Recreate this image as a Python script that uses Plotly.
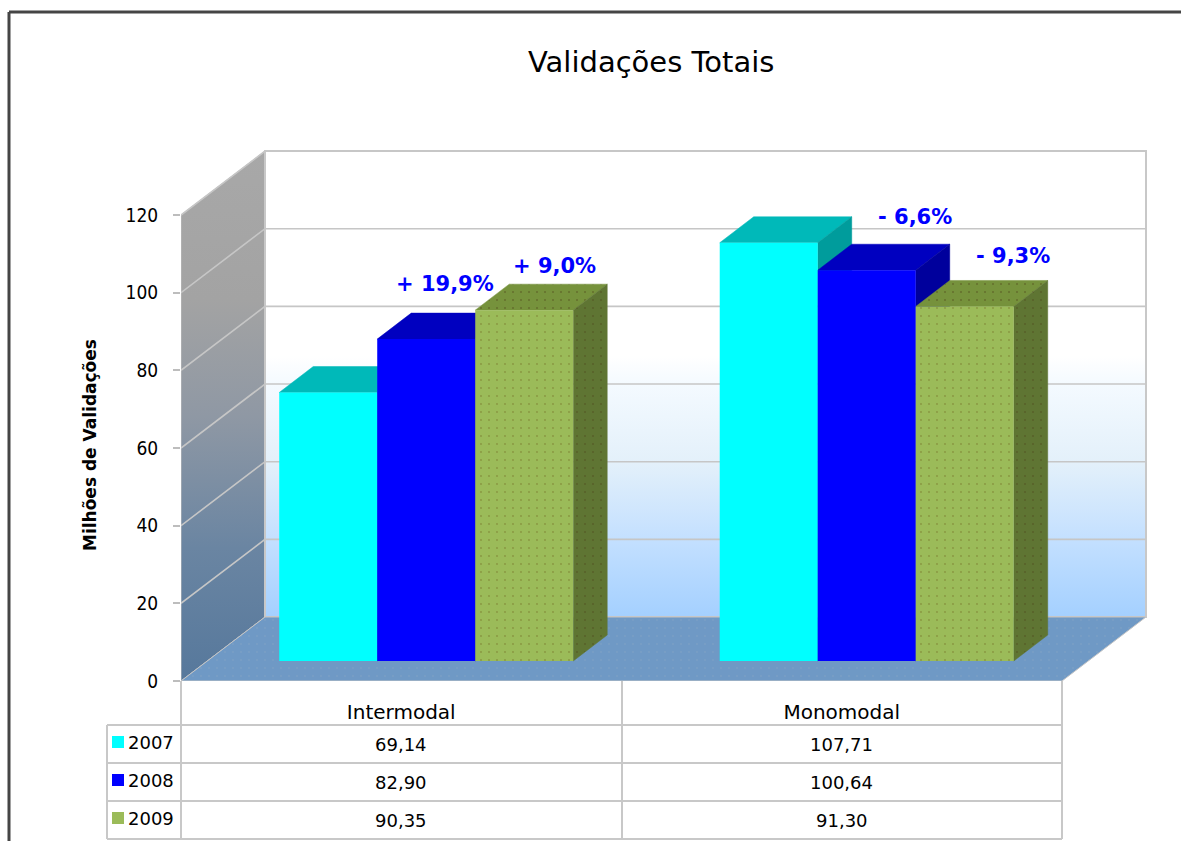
import plotly.graph_objects as go

# ---------- data ----------
categories = ["Intermodal", "Monomodal"]
series_names = ["2007", "2008", "2009"]
values_2007 = [69.14, 107.71]
values_2008 = [82.90, 100.64]
values_2009 = [90.35, 91.30]
y_ticks = [0, 20, 40, 60, 80, 100, 120]
change_labels = ["+ 19,9%", "+ 9,0%", "- 6,6%", "- 9,3%"]

# ---------- styles / geometry ----------
W, H = 1181, 841
X0_PX, Y0_PX = 181, 681
CAT_PX, UNIT_PX = 440.5, 3.883
FRONT = ["#00ffff", "#0000ff", "#9bbb59"]
TOP = ["#00b9b9", "#0000c0", "#76923c"]
SIDE = ["#009c9c", "#00009c", "#5f7533"]
WALL_DX, WALL_DY = 84 / CAT_PX, 64 / UNIT_PX
BAR_DX, BAR_DY = 34 / CAT_PX, 26 / UNIT_PX
BAR_BASE = 20 / UNIT_PX
BAR_W, BAR_OFF = 98 / CAT_PX, 0.223
GRID = "#c6c6c6"
FONT = "DejaVu Sans"

series = [values_2007, values_2008, values_2009]
fig = go.Figure()
ymax_val = 120


def poly(x, y, **kw):
    fig.add_trace(go.Scatter(x=x, y=y, mode="lines", fill="toself", showlegend=False,
                             hoverinfo="skip", xaxis="x", yaxis="y", **kw))


# side wall
poly([0, WALL_DX, WALL_DX, 0, 0],
     [0, WALL_DY, ymax_val + WALL_DY, ymax_val, 0],
     line=dict(color="#bdbdbd", width=1),
     fillgradient=dict(type="vertical",
                       colorscale=[[0, "#56789c"], [0.25, "#6a85a2"], [0.5, "#8f98a4"],
                                   [0.72, "#a3a3a3"], [1, "#a8a8a8"]]))
# back wall
right = len(categories)
poly([WALL_DX, right + WALL_DX, right + WALL_DX, WALL_DX, WALL_DX],
     [WALL_DY, WALL_DY, ymax_val + WALL_DY, ymax_val + WALL_DY, WALL_DY],
     line=dict(color="#c8c8c8", width=2),
     fillgradient=dict(type="vertical",
                       colorscale=[[0, "#a4d0ff"], [0.17, "#c4e0ff"], [0.33, "#e3f0fa"],
                                   [0.5, "#f4faff"], [0.56, "#ffffff"], [1, "#ffffff"]]))
# floor
poly([0, right, right + WALL_DX, WALL_DX, 0],
     [0, 0, WALL_DY, WALL_DY, 0],
     line=dict(color="#c4c4c4", width=1), fillcolor="#6f99c5",
     fillpattern=dict(shape=".", size=8, solidity=0.04, fgcolor="#85a6c4", bgcolor="#6f99c5"))
# gridlines on the walls
for t in y_ticks:
    if t == 0:
        continue
    fig.add_trace(go.Scatter(x=[0, WALL_DX, right + WALL_DX],
                             y=[t, t + WALL_DY, t + WALL_DY],
                             mode="lines", line=dict(color=GRID, width=1.6),
                             showlegend=False, hoverinfo="skip", xaxis="x", yaxis="y"))

# top and side faces of the bars
for s, vals in enumerate(series):
    for c, v in enumerate(vals):
        x0 = c + BAR_OFF + s * BAR_W
        x1 = x0 + BAR_W
        t = BAR_BASE + v
        pat = dict(shape=".", size=8, solidity=0.05, fgcolor="#4f4a1c") if s == 2 else None
        kw = dict(fillpattern=dict(bgcolor=TOP[s], **pat)) if pat else {}
        poly([x0, x1, x1 + BAR_DX, x0 + BAR_DX, x0], [t, t, t + BAR_DY, t + BAR_DY, t],
             line=dict(color=TOP[s], width=0.5), fillcolor=TOP[s], **kw)
        kw = dict(fillpattern=dict(bgcolor=SIDE[s], **pat)) if pat else {}
        poly([x1, x1 + BAR_DX, x1 + BAR_DX, x1, x1],
             [BAR_BASE, BAR_BASE + BAR_DY, t + BAR_DY, t, BAR_BASE],
             line=dict(color=SIDE[s], width=0.5), fillcolor=SIDE[s], **kw)

# front faces, in an overlaid subplot so they cover the faces behind them
for s, vals in enumerate(series):
    marker = dict(color=FRONT[s], line=dict(width=0))
    if s == 2:
        marker["pattern"] = dict(shape=".", size=8, solidity=0.04,
                                 fgcolor="#87953f", bgcolor=FRONT[s], fillmode="replace")
    fig.add_trace(go.Bar(x=[c + BAR_OFF + (s + 0.5) * BAR_W for c in range(len(vals))],
                         y=vals, base=[BAR_BASE] * len(vals), width=BAR_W, name=series_names[s],
                         marker=marker, showlegend=False, xaxis="x2", yaxis="y2"))


# ---------- chrome helpers ----------
def px(p):
    return p / W


def py(p):
    return 1 - p / H


shapes = []


def line(x0, y0, x1, y1, color="#c8c8c8", width=2):
    shapes.append(dict(type="line", xref="paper", yref="paper", x0=px(x0), x1=px(x1),
                       y0=py(y0), y1=py(y1), line=dict(color=color, width=width)))


# outer frame
line(9, 12, W, 12, "#454545", 3)
line(9, 12, 9, H, "#454545", 3)
# data table
row_lines = [725, 763, 801, 839]
for i, r in enumerate(row_lines):
    line(107, r, 1062, r)
line(107, 725, 107, 839)
for xv in [181, 622, 1062]:
    line(xv, 681, xv, 839)

CENTER = dict(xanchor="center", yanchor="middle", showarrow=False)
annotations = [
    dict(text="Validações Totais", xref="paper", yref="paper", x=px(651), y=py(62),
         font=dict(family=FONT, size=29, color="#000"), **CENTER),
    dict(text="<b>Milhões de Validações</b>", xref="paper", yref="paper", x=px(90), y=py(445),
         textangle=-90, font=dict(family=FONT, size=17, color="#000"), **CENTER),
]
row_centers = [744, 782, 820]
for s, vals in enumerate(series):
    shapes.append(dict(type="rect", xref="paper", yref="paper", x0=px(112), x1=px(124),
                       y0=py(row_centers[s] - 8), y1=py(row_centers[s] + 4),
                       fillcolor=FRONT[s], line=dict(width=0)))
    annotations.append(dict(text=series_names[s], xref="paper", yref="paper", x=px(151),
                            y=py(row_centers[s] - 2),
                            font=dict(family=FONT, size=18, color="#000"), **CENTER))
    for c, v in enumerate(vals):
        annotations.append(dict(text=f"{v:.2f}".replace(".", ","), xref="x", yref="paper",
                                x=c + 0.5, y=py(row_centers[s]),
                                font=dict(family=FONT, size=18, color="#000"), **CENTER))

# change labels, placed relative to the back-top of their bars
label_bars = [(1, 0), (2, 0), (1, 1), (2, 1)]
label_shift = [(-15, 29), (-4, 18), (14, 27), (14, 24)]
for txt, (s, c), (dx, dy) in zip(change_labels, label_bars, label_shift):
    annotations.append(dict(text=f"<b>{txt}</b>", xref="x", yref="y",
                            x=c + BAR_OFF + (s + 0.5) * BAR_W + BAR_DX,
                            y=BAR_BASE + series[s][c] + BAR_DY,
                            xshift=dx, yshift=dy,
                            font=dict(family=FONT, size=21, color="#0000ff"), **CENTER))

x_range = [0, (W - X0_PX) / CAT_PX]
y_range = [0, Y0_PX / UNIT_PX]
x_dom = [X0_PX / W, 1]
y_dom = [1 - Y0_PX / H, 1]

fig.update_layout(
    width=W, height=H, margin=dict(l=0, r=0, t=0, b=0, pad=0), autosize=False,
    paper_bgcolor="#ffffff", plot_bgcolor="rgba(0,0,0,0)", showlegend=False,
    barmode="overlay", shapes=shapes, annotations=annotations,
    xaxis=dict(domain=x_dom, range=x_range, showgrid=False, zeroline=False, showline=False,
               automargin=False,
               tickmode="array", tickvals=[c + 0.5 for c in range(len(categories))],
               ticktext=categories, ticks="", ticklabelstandoff=17,
               tickfont=dict(family=FONT, size=20, color="#000")),
    yaxis=dict(domain=y_dom, range=y_range, showgrid=False, zeroline=False, showline=False,
               automargin=False,
               tickmode="array", tickvals=y_ticks, ticktext=[str(t) for t in y_ticks],
               ticks="outside", ticklen=7, tickcolor="#bdbdbd", tickwidth=1.5,
               ticklabelstandoff=11,
               tickfont=dict(family="DejaVu Sans Condensed", size=19, color="#000")),
    xaxis2=dict(domain=x_dom, range=x_range, overlaying="x", visible=False, anchor="y2",
                automargin=False),
    yaxis2=dict(domain=y_dom, range=y_range, overlaying="y", visible=False, anchor="x2",
                automargin=False),
)

fig.write_html("out.html", config={"displayModeBar": False, "responsive": False},
               default_width=f"{W}px", default_height=f"{H}px",
               post_script="document.body.style.margin='0';document.documentElement.style.overflow='hidden';")
